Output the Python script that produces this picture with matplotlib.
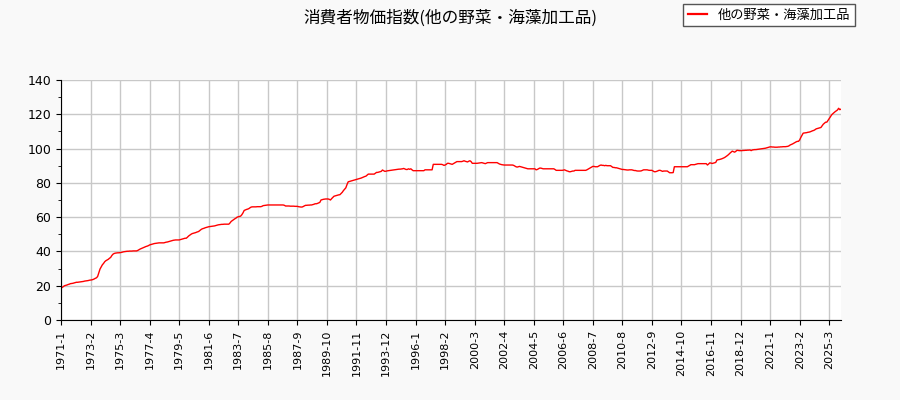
import matplotlib
matplotlib.use('Agg')
from matplotlib import pyplot as plt
from matplotlib.ticker import MultipleLocator

plt.rcParams['font.family'] = ['Noto Sans CJK JP', 'DejaVu Sans']

##### Data: monthly index, one list per year (1971-1 .. 2026-1)
start_year = 1971
v1971 = [18.6, 19.0, 19.5, 20.0, 20.2, 20.4, 20.7, 20.9, 21.2, 21.3, 21.4, 21.6]
v1972 = [21.8, 22.0, 22.0, 22.1, 22.2, 22.3, 22.4, 22.5, 22.7, 22.8, 22.9, 23.0]
v1973 = [23.2, 23.3, 23.4, 23.6, 23.9, 24.3, 24.6, 25.4, 27.5, 29.7, 31.0, 32.2]
v1974 = [33.0, 34.0, 34.6, 35.0, 35.4, 36.0, 36.5, 37.6, 38.4, 38.8, 39.0, 39.1]
v1975 = [39.2, 39.2, 39.3, 39.4, 39.6, 39.8, 39.9, 40.0, 40.1, 40.1, 40.2, 40.2]
v1976 = [40.2, 40.3, 40.3, 40.3, 40.3, 40.6, 41.0, 41.4, 41.7, 42.0, 42.3, 42.6]
v1977 = [42.9, 43.1, 43.4, 43.8, 44.0, 44.2, 44.4, 44.6, 44.7, 44.8, 44.9, 45.0]
v1978 = [45.0, 45.0, 45.0, 45.0, 45.2, 45.4, 45.5, 45.7, 45.9, 46.1, 46.3, 46.5]
v1979 = [46.6, 46.7, 46.7, 46.7, 46.7, 46.9, 47.1, 47.3, 47.5, 47.7, 47.7, 48.3]
v1980 = [49.0, 49.5, 50.0, 50.4, 50.6, 50.8, 51.0, 51.3, 51.5, 51.9, 52.5, 53.0]
v1981 = [53.3, 53.5, 53.8, 54.0, 54.2, 54.4, 54.5, 54.6, 54.7, 54.8, 54.9, 55.1]
v1982 = [55.3, 55.5, 55.6, 55.7, 55.8, 55.8, 55.9, 55.9, 55.9, 55.9, 55.9, 56.6]
v1983 = [57.5, 58.0, 58.5, 59.0, 59.4, 60.0, 60.2, 60.4, 60.6, 61.4, 62.5, 63.9]
v1984 = [64.2, 64.5, 64.7, 65.0, 65.5, 65.9, 66.0, 66.0, 66.0, 66.0, 66.1, 66.1]
v1985 = [66.1, 66.1, 66.3, 66.7, 66.8, 66.9, 67.0, 67.1, 67.1, 67.1, 67.1, 67.1]
v1986 = [67.1, 67.1, 67.1, 67.1, 67.1, 67.1, 67.1, 67.1, 67.1, 66.9, 66.5, 66.5]
v1987 = [66.5, 66.5, 66.4, 66.4, 66.4, 66.4, 66.3, 66.3, 66.3, 66.1, 66.0, 65.9]
v1988 = [65.9, 66.2, 66.6, 66.9, 66.9, 67.0, 67.0, 67.1, 67.1, 67.3, 67.5, 67.8]
v1989 = [67.8, 68.0, 68.3, 68.6, 70.0, 70.2, 70.4, 70.5, 70.6, 70.6, 70.6, 70.4]
v1990 = [70.0, 70.8, 71.5, 72.2, 72.4, 72.6, 72.8, 73.0, 73.1, 73.8, 74.5, 75.5]
v1991 = [76.3, 77.1, 79.0, 80.6, 80.8, 81.0, 81.2, 81.4, 81.6, 81.8, 82.0, 82.2]
v1992 = [82.4, 82.6, 82.8, 83.1, 83.4, 83.7, 83.9, 84.5, 85.1, 85.1, 85.1, 85.1]
v1993 = [85.1, 85.1, 85.6, 86.1, 86.1, 86.3, 86.5, 86.7, 87.5, 87.1, 86.7, 86.8]
v1994 = [87.0, 87.1, 87.2, 87.3, 87.4, 87.5, 87.6, 87.7, 87.8, 87.9, 88.0, 88.0]
v1995 = [88.1, 88.2, 88.4, 88.1, 87.8, 87.8, 88.2, 87.9, 88.2, 87.6, 87.1, 87.1]
v1996 = [87.1, 87.1, 87.1, 87.1, 87.1, 87.1, 87.1, 87.1, 87.6, 87.6, 87.6, 87.6]
v1997 = [87.6, 87.6, 87.6, 90.8, 90.8, 90.8, 90.8, 90.8, 90.8, 90.8, 90.8, 90.6]
v1998 = [90.2, 90.4, 90.8, 91.4, 91.4, 91.2, 91.0, 90.8, 91.2, 91.6, 92.0, 92.4]
v1999 = [92.4, 92.4, 92.4, 92.4, 92.6, 92.9, 92.6, 92.4, 92.2, 92.6, 92.9, 92.4]
v2000 = [91.4, 91.4, 91.4, 91.4, 91.4, 91.5, 91.6, 91.7, 91.8, 91.6, 91.4, 91.2]
v2001 = [91.5, 91.8, 91.8, 91.8, 91.8, 91.8, 91.8, 91.8, 91.8, 91.8, 91.4, 91.0]
v2002 = [90.8, 90.6, 90.5, 90.4, 90.4, 90.4, 90.4, 90.4, 90.4, 90.4, 90.4, 90.2]
v2003 = [89.8, 89.4, 89.2, 89.4, 89.6, 89.4, 89.2, 89.0, 88.8, 88.6, 88.4, 88.2]
v2004 = [88.2, 88.2, 88.2, 88.2, 88.2, 88.2, 87.6, 87.8, 88.2, 88.6, 88.6, 88.4]
v2005 = [88.2, 88.2, 88.2, 88.2, 88.2, 88.2, 88.2, 88.2, 88.2, 88.2, 87.8, 87.3]
v2006 = [87.3, 87.3, 87.3, 87.3, 87.3, 87.4, 87.6, 87.3, 87.0, 86.8, 86.5, 86.5]
v2007 = [86.7, 86.9, 86.9, 87.3, 87.3, 87.3, 87.3, 87.3, 87.3, 87.3, 87.3, 87.3]
v2008 = [87.3, 87.6, 88.0, 88.4, 88.8, 89.2, 89.6, 89.6, 89.4, 89.4, 89.4, 89.8]
v2009 = [90.2, 90.4, 90.2, 90.2, 90.0, 90.2, 90.0, 90.0, 90.0, 90.0, 89.5, 89.0]
v2010 = [89.0, 88.8, 88.8, 88.6, 88.4, 88.2, 88.0, 87.8, 87.8, 87.7, 87.6, 87.5]
v2011 = [87.5, 87.6, 87.6, 87.6, 87.4, 87.2, 87.2, 87.0, 86.9, 86.9, 86.9, 87.0]
v2012 = [87.3, 87.6, 87.6, 87.6, 87.6, 87.4, 87.3, 87.3, 87.3, 86.9, 86.5, 86.5]
v2013 = [86.7, 87.0, 87.3, 87.3, 87.0, 86.7, 86.9, 86.9, 86.9, 86.9, 86.4, 85.9]
v2014 = [85.9, 85.9, 86.0, 89.4, 89.4, 89.4, 89.4, 89.4, 89.4, 89.4, 89.4, 89.4]
v2015 = [89.4, 89.4, 89.4, 89.8, 90.2, 90.6, 90.6, 90.6, 90.6, 90.8, 91.0, 91.2]
v2016 = [91.2, 91.2, 91.2, 91.2, 91.2, 91.2, 91.2, 90.4, 91.0, 91.7, 91.5, 91.3]
v2017 = [91.5, 91.7, 91.9, 93.3, 93.5, 93.6, 93.8, 94.0, 94.3, 94.6, 95.0, 95.5]
v2018 = [96.0, 96.6, 97.3, 97.9, 98.5, 98.2, 97.9, 98.4, 99.0, 98.9, 98.8, 98.8]
v2019 = [98.8, 98.9, 98.9, 99.0, 99.0, 99.1, 99.1, 99.2, 98.8, 99.2, 99.3, 99.4]
v2020 = [99.4, 99.5, 99.6, 99.7, 99.8, 99.9, 100.0, 100.1, 100.2, 100.4, 100.6, 100.8]
v2021 = [101.0, 101.0, 100.9, 100.9, 100.8, 100.8, 100.8, 100.9, 100.9, 101.0, 101.0, 101.1]
v2022 = [101.1, 101.1, 101.2, 101.3, 101.6, 102.1, 102.4, 102.7, 103.1, 103.5, 103.9, 104.2]
v2023 = [104.2, 105.0, 106.5, 107.8, 109.0, 109.1, 109.2, 109.3, 109.5, 109.6, 109.8, 110.1]
v2024 = [110.4, 110.6, 111.0, 111.5, 111.7, 111.9, 112.1, 112.3, 113.2, 114.2, 114.8, 115.4]
v2025 = [115.4, 116.4, 117.3, 118.5, 119.6, 120.3, 120.9, 121.5, 122.0, 122.5, 123.5, 122.7]
v2026 = [123.0]

years = [v1971, v1972, v1973, v1974, v1975, v1976, v1977, v1978, v1979, v1980,
         v1981, v1982, v1983, v1984, v1985, v1986, v1987, v1988, v1989, v1990,
         v1991, v1992, v1993, v1994, v1995, v1996, v1997, v1998, v1999, v2000,
         v2001, v2002, v2003, v2004, v2005, v2006, v2007, v2008, v2009, v2010,
         v2011, v2012, v2013, v2014, v2015, v2016, v2017, v2018, v2019, v2020,
         v2021, v2022, v2023, v2024, v2025, v2026]

values = [v for yr in years for v in yr]
labels = []
for i, yr in enumerate(years):
    for m in range(len(yr)):
        labels.append(f"{start_year + i}-{m + 1}")
x = list(range(len(values)))

series_name = "他の野菜・海藻加工品"
title = "消費者物価指数(他の野菜・海藻加工品)"

##### Plot
fig = plt.figure(figsize=(9, 4), dpi=100, facecolor='#f9f9f9')
ax = fig.add_axes([61 / 900, 80 / 400, 780 / 900, 240 / 400])
ax.set_facecolor('white')

line, = ax.plot(x, values, color='red', lw=1.0, label=series_name)

ax.set_xlim(0, len(values) - 1)
ax.set_ylim(0, 140)
ax.yaxis.set_major_locator(MultipleLocator(20))
ax.yaxis.set_minor_locator(MultipleLocator(10))

tick_pos = x[::25]
ax.set_xticks(tick_pos)
ax.set_xticklabels([labels[i] for i in tick_pos], rotation=90, fontsize=8,
                   family='DejaVu Sans')
for t in ax.get_yticklabels():
    t.set_family('DejaVu Sans')
ax.tick_params(axis='y', labelsize=9)

ax.grid(True, color='#c8c8c8', lw=1)
ax.set_axisbelow(True)
ax.spines['top'].set_visible(False)
ax.spines['right'].set_visible(False)

fig.suptitle(title, x=0.5, y=0.975, fontsize=12, va='top')
leg = fig.legend(handles=[line], loc='upper right', bbox_to_anchor=(855 / 900, 1 - 4 / 400),
                 fontsize=9.5, fancybox=False, edgecolor='#555555', framealpha=1,
                 handlelength=1.5, borderpad=0.35, borderaxespad=0)
leg.get_lines()[0].set_linewidth(1.6)

plt.savefig('out.png')
